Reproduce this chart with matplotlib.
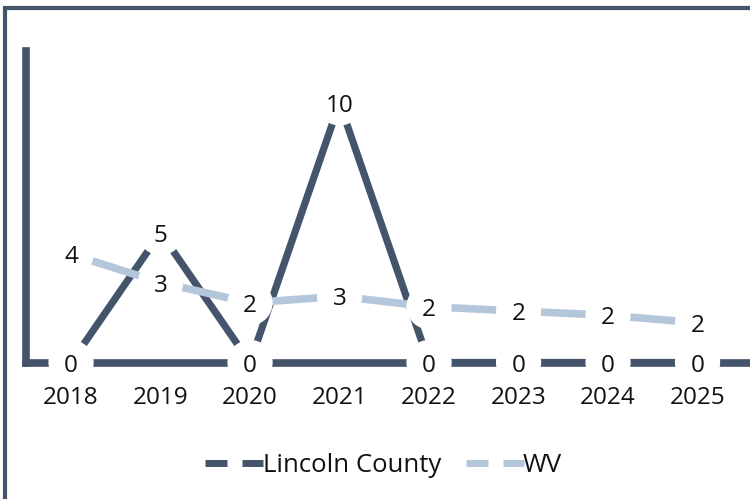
import matplotlib
matplotlib.use("Agg")
import matplotlib.pyplot as plt
from matplotlib.lines import Line2D
from matplotlib.patches import Rectangle

years = ["2018", "2019", "2020", "2021", "2022", "2023", "2024", "2025"]
lincoln = [0, 5, 0, 10, 0, 0, 0, 0]
wv = [4.17, 3.08, 2.3, 2.55, 2.15, 1.98, 1.82, 1.53]
series_names = ["Lincoln County", "WV"]

DARK = "#44546A"
LIGHT = "#B4C6D9"
FONT = ["Open Sans", "DejaVu Sans"]
plt.rcParams["font.family"] = FONT

W, H = 750, 499
fig = plt.figure(figsize=(W / 100, H / 100), dpi=100)

def fx(px):
    return px / W

def fy(py):
    return 1 - py / H

ax_left, ax_right = 26.3, 760
ax_top, ax_bot = 51, 362.5
ax = fig.add_axes([fx(ax_left), fy(ax_bot), fx(ax_right - ax_left), (ax_bot - ax_top) / H])
xs = list(range(len(years)))
unit = 89.5
ax.set_xlim(-0.5, -0.5 + (ax_right - ax_left) / unit)
ax.set_ylim(0, 12)

for s in ["top", "right"]:
    ax.spines[s].set_visible(False)
for s in ["left", "bottom"]:
    ax.spines[s].set_color(DARK)
    ax.spines[s].set_linewidth(5.5)
    ax.spines[s].set_capstyle("projecting")
ax.set_yticks([])
ax.set_xticks(xs)
ax.set_xticklabels(years, fontsize=17.5, color="#111111")
ax.tick_params(axis="x", length=0, pad=17)

ax.plot(xs, lincoln, color=DARK, lw=5.2, zorder=3, solid_capstyle="butt")
ax.plot(xs, wv, color=LIGHT, lw=5.5, zorder=3, solid_capstyle="butt")

def label_text(v):
    return str(int(v + 0.5))

for vals in [lincoln, wv]:
    ax.scatter(xs, vals, s=1060, color="white", edgecolors="none", zorder=4, clip_on=False)
for vals in [lincoln, wv]:
    for x, v in zip(xs, vals):
        ax.text(x, v, label_text(v), ha="center", va="center_baseline", fontsize=17.5,
                color="#111111", zorder=5, clip_on=False)

fig.add_artist(Rectangle((fx(5), -0.2), 1.5, fy(8) + 0.2, transform=fig.transFigure,
                         fill=False, edgecolor=DARK, lw=3, zorder=10))

ly = fy(463)
def handle(x0, color):
    for a, b in [(x0, x0 + 22), (x0 + 37, x0 + 58)]:
        fig.add_artist(Line2D([fx(a), fx(b)], [ly, ly], transform=fig.transFigure,
                              color=color, lw=5, solid_capstyle="butt"))

handle(205, DARK)
fig.text(fx(263), ly, series_names[0], ha="left", va="center_baseline", fontsize=18.5, color="#111111")
handle(466, LIGHT)
fig.text(fx(523), ly, series_names[1], ha="left", va="center_baseline", fontsize=18.5, color="#111111")

fig.savefig("out.png", dpi=100, facecolor="white")
